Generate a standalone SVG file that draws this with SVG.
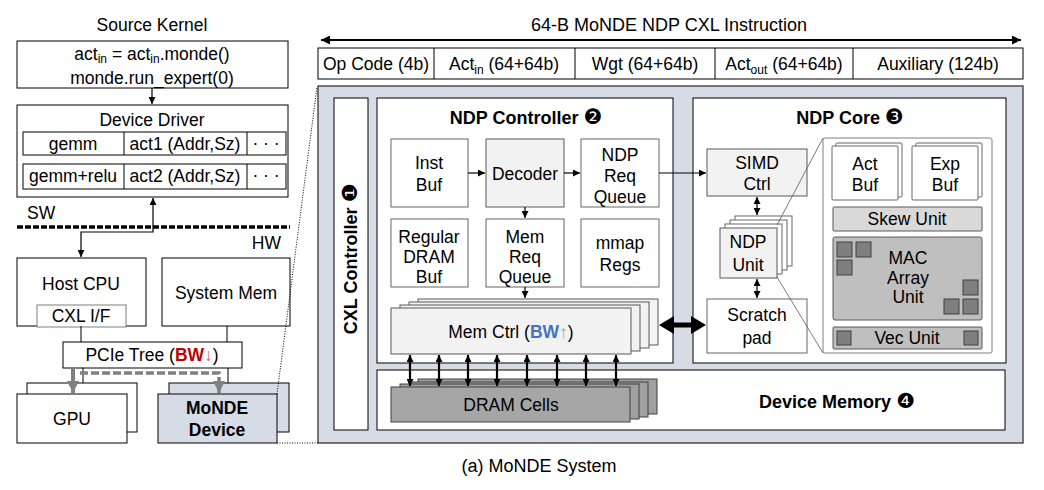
<svg xmlns="http://www.w3.org/2000/svg" width="1044" height="490" viewBox="0 0 1044 490">
<defs>
<style>
text{font-family:"Liberation Sans",Arial,sans-serif;font-size:17.5px;fill:#000;text-anchor:middle}
.bd{font-weight:bold}
.ttl{font-weight:bold;font-size:18px}
.sub{font-size:12px}
.num{font-family:"DejaVu Sans",sans-serif;font-weight:normal;font-size:21px}
.bx{fill:#fff;stroke:#000;stroke-width:1}
.ib{fill:#fff;stroke:#666;stroke-width:1}
.lg{fill:#f2f2f2;stroke:#595959;stroke-width:1}
.mg{fill:#bfbfbf;stroke:#595959;stroke-width:1}
.sq{fill:#7f7f7f;stroke:#404040;stroke-width:1}
.ln{fill:none;stroke:#000;stroke-width:1}
.ar{fill:none;stroke:#000;stroke-width:1.2}
.ar2{fill:none;stroke:#000;stroke-width:2.2}
</style>
<marker id="ah" viewBox="0 0 10 10" refX="10" refY="5" markerWidth="7" markerHeight="7" markerUnits="userSpaceOnUse" orient="auto-start-reverse"><path d="M0,0 L10,5 L0,10 z" fill="#000"/></marker>
<marker id="ahL" viewBox="0 0 10 10" refX="10" refY="5" markerWidth="9" markerHeight="9" markerUnits="userSpaceOnUse" orient="auto-start-reverse"><path d="M0,0 L10,5 L0,10 z" fill="#000"/></marker>
<marker id="ahG" viewBox="0 0 10 10" refX="10" refY="5" markerWidth="12" markerHeight="12" markerUnits="userSpaceOnUse" orient="auto-start-reverse"><path d="M0,0 L10,5 L0,10 z" fill="#808080"/></marker>
</defs>

<!-- Left: software/hardware stack -->
<g id="source-kernel">
<text x="152" y="31">Source Kernel</text>
<rect class="bx" x="17" y="41" width="271" height="47"/>
<text x="152" y="60">act<tspan class="sub" dy="3">in</tspan><tspan dy="-3"> = act</tspan><tspan class="sub" dy="3">in</tspan><tspan dy="-3">.monde()</tspan></text>
<text x="152" y="84">monde.run_expert(0)</text>
</g>

<g id="device-driver">
<rect class="bx" x="17" y="105" width="271" height="92"/>
<text x="152" y="126">Device Driver</text>
<rect class="bx" x="23" y="132" width="263" height="23"/>
<line class="ln" x1="124" y1="132" x2="124" y2="155"/>
<line class="ln" x1="247" y1="132" x2="247" y2="155"/>
<text x="73" y="150">gemm</text>
<text x="185" y="150">act1 (Addr,Sz)</text>
<text x="266" y="149">· · ·</text>
<rect class="bx" x="23" y="164" width="263" height="25"/>
<line class="ln" x1="124" y1="164" x2="124" y2="189"/>
<line class="ln" x1="247" y1="164" x2="247" y2="189"/>
<text x="73" y="182">gemm+relu</text>
<text x="185" y="182">act2 (Addr,Sz)</text>
<text x="266" y="181">· · ·</text>
</g>

<g id="sw-hw">
<text x="27" y="219" style="text-anchor:start">SW</text>
<line x1="17" y1="227" x2="290" y2="227" stroke="#000" stroke-width="3.5" stroke-dasharray="6 2"/>
<text x="281" y="249" style="text-anchor:end">HW</text>
</g>

<g id="host-cpu">
<rect class="bx" x="17" y="258" width="129" height="68"/>
<text x="81" y="290">Host CPU</text>
<rect x="37" y="305" width="89" height="22" fill="#fff" stroke="#7f7f7f"/>
<text x="81" y="322">CXL I/F</text>
</g>

<g id="system-mem">
<rect class="bx" x="162" y="258" width="128" height="68"/>
<text x="226" y="299">System Mem</text>
</g>

<g id="pcie-tree">
<rect class="bx" x="63" y="342" width="179" height="26"/>
<text x="152" y="361">PCIe Tree (<tspan class="bd" fill="#c00000">BW</tspan><tspan fill="#e06060">↓</tspan>)</text>
</g>

<g id="gpu">
<rect class="bx" x="27" y="383" width="110" height="49"/>
<rect class="bx" x="17" y="394" width="110" height="49"/>
<text x="72" y="425">GPU</text>
</g>

<g id="monde-device">
<rect x="169" y="383" width="120" height="49" fill="#d6dce5" stroke="#000"/>
<rect x="158" y="394" width="119" height="49" fill="#d6dce5" stroke="#000"/>
<text class="bd" x="217" y="414">MoNDE</text>
<text class="bd" x="217" y="436">Device</text>
</g>

<!-- Right: instruction format -->
<g id="instruction">
<text x="669" y="31" style="font-size:18px">64-B MoNDE NDP CXL Instruction</text>
<rect class="bx" x="318" y="48" width="705" height="31"/>
<line class="ln" x1="434" y1="48" x2="434" y2="79"/>
<line class="ln" x1="575" y1="48" x2="575" y2="79"/>
<line class="ln" x1="715" y1="48" x2="715" y2="79"/>
<line class="ln" x1="853" y1="48" x2="853" y2="79"/>
<text x="376" y="70">Op Code (4b)</text>
<text x="504" y="70">Act<tspan class="sub" dy="4">in</tspan><tspan dy="-4"> (64+64b)</tspan></text>
<text x="645" y="70">Wgt (64+64b)</text>
<text x="784" y="70">Act<tspan class="sub" dy="4">out</tspan><tspan dy="-4"> (64+64b)</tspan></text>
<text x="938" y="70">Auxiliary (124b)</text>
</g>

<g id="monde-panel">
<rect x="318" y="86" width="705" height="357" fill="#d6dce5" stroke="#262626" stroke-width="1.2"/>
</g>

<g id="cxl-controller">
<rect class="bx" x="334" y="98" width="34" height="332"/>
<text class="ttl" transform="translate(357,259) rotate(-90)">CXL Controller <tspan class="num">❶</tspan></text>
</g>

<g id="ndp-controller">
<rect class="bx" x="377" y="98" width="296" height="265"/>
<text class="ttl" x="526" y="124">NDP Controller <tspan class="num">❷</tspan></text>
</g>

<g id="inst-buf">
<rect class="ib" x="391" y="139" width="77" height="68"/>
<text x="429" y="169">Inst</text>
<text x="429" y="191">Buf</text>
</g>
<g id="decoder">
<rect class="lg" x="486" y="139" width="78" height="68"/>
<text x="525" y="180">Decoder</text>
</g>
<g id="ndp-req-queue">
<rect class="ib" x="581" y="139" width="78" height="68"/>
<text x="620" y="161">NDP</text>
<text x="620" y="182">Req</text>
<text x="620" y="203">Queue</text>
</g>
<g id="regular-dram-buf">
<rect class="ib" x="391" y="219" width="77" height="68"/>
<text x="429" y="243">Regular</text>
<text x="429" y="263">DRAM</text>
<text x="429" y="283">Buf</text>
</g>
<g id="mem-req-queue">
<rect class="ib" x="486" y="219" width="78" height="68"/>
<text x="525" y="243">Mem</text>
<text x="525" y="263">Req</text>
<text x="525" y="283">Queue</text>
</g>
<g id="mmap-regs">
<rect class="ib" x="581" y="219" width="78" height="68"/>
<text x="620" y="249">mmap</text>
<text x="620" y="271">Regs</text>
</g>

<g id="mem-ctrl">
<rect class="lg" x="418" y="299" width="240" height="46"/>
<rect class="lg" x="409" y="302" width="240" height="46"/>
<rect class="lg" x="400" y="305" width="240" height="46"/>
<rect class="lg" x="391" y="308" width="240" height="46"/>
<text x="511" y="338">Mem Ctrl (<tspan class="bd" fill="#4472c4">BW</tspan><tspan fill="#8faadc">↑</tspan>)</text>
</g>

<g id="device-memory">
<rect class="bx" x="377" y="370" width="628" height="60"/>
<text class="ttl" x="837" y="408">Device Memory <tspan class="num">❹</tspan></text>
</g>

<g id="dram-cells">
<rect x="418" y="379" width="239" height="35" fill="#a0a0a0" stroke="#404040"/>
<rect x="409" y="382" width="239" height="35" fill="#a0a0a0" stroke="#404040"/>
<rect x="400" y="384" width="239" height="35" fill="#a0a0a0" stroke="#404040"/>
<rect x="391" y="387" width="239" height="35" fill="#a6a6a6" stroke="#404040"/>
<text x="511" y="411">DRAM Cells</text>
</g>

<g id="ndp-core">
<rect class="bx" x="693" y="98" width="313" height="265"/>
<text class="ttl" x="850" y="124">NDP Core <tspan class="num">❸</tspan></text>
</g>

<g id="simd-ctrl">
<rect class="lg" x="707" y="149" width="100" height="47"/>
<text x="757" y="169">SIMD</text>
<text x="757" y="190">Ctrl</text>
</g>

<g id="ndp-unit">
<rect class="ib" x="735" y="216" width="57" height="50"/>
<rect class="ib" x="730" y="220" width="57" height="50"/>
<rect class="ib" x="725" y="224" width="57" height="50"/>
<rect class="lg" x="720" y="228" width="57" height="50"/>
<text x="748" y="248">NDP</text>
<text x="748" y="271">Unit</text>
</g>

<g id="scratch-pad">
<rect class="ib" x="707" y="299" width="100" height="54"/>
<text x="757" y="321">Scratch</text>
<text x="757" y="344">pad</text>
</g>

<g id="ndp-unit-detail">
<line x1="777" y1="225" x2="823" y2="138" stroke="#595959" stroke-width="0.8"/>
<line x1="777" y1="277" x2="823" y2="353" stroke="#595959" stroke-width="0.8"/>
<rect x="823" y="138" width="169" height="215" rx="2" fill="#fff" stroke="#7f7f7f"/>
</g>

<g id="act-buf">
<rect class="ib" x="836" y="143" width="66" height="54" rx="1"/>
<rect class="ib" x="832" y="146" width="66" height="54" rx="1"/>
<text x="865" y="170">Act</text>
<text x="865" y="191">Buf</text>
</g>
<g id="exp-buf">
<rect class="ib" x="916" y="143" width="66" height="54" rx="1"/>
<rect class="ib" x="912" y="146" width="66" height="54" rx="1"/>
<text x="945" y="170">Exp</text>
<text x="945" y="191">Buf</text>
</g>
<g id="skew-unit">
<rect x="833" y="207" width="149" height="24" rx="1" fill="#d9d9d9" stroke="#595959"/>
<text x="907" y="225">Skew Unit</text>
</g>
<g id="mac-array-unit">
<rect class="mg" x="833" y="237" width="149" height="83" rx="2"/>
<rect class="sq" x="837" y="242" width="15" height="15"/>
<rect class="sq" x="856" y="242" width="15" height="15"/>
<rect class="sq" x="837" y="260" width="15" height="15"/>
<rect class="sq" x="963" y="280" width="15" height="15"/>
<rect class="sq" x="963" y="299" width="15" height="15"/>
<rect class="sq" x="944" y="299" width="15" height="15"/>
<text x="908" y="264">MAC</text>
<text x="908" y="284">Array</text>
<text x="908" y="303">Unit</text>
</g>
<g id="vec-unit">
<rect class="mg" x="833" y="327" width="149" height="22" rx="1"/>
<rect class="sq" x="837" y="331" width="14" height="14"/>
<rect class="sq" x="964" y="331" width="14" height="14"/>
<text x="907" y="344">Vec Unit</text>
</g>

<!-- Connectors -->
<g id="connectors">
<line class="ar" x1="152" y1="88" x2="152" y2="104" marker-end="url(#ah)"/>
<path class="ar" d="M153,198 V232 H81 V257" marker-start="url(#ah)" marker-end="url(#ah)"/>
<line class="ln" x1="81" y1="326" x2="81" y2="342"/>
<line class="ln" x1="227" y1="326" x2="227" y2="342"/>
<line class="ln" x1="83" y1="368" x2="83" y2="383"/>
<line class="ln" x1="228" y1="368" x2="228" y2="383"/>
<line x1="73" y1="368" x2="73" y2="393" stroke="#808080" stroke-width="4" marker-end="url(#ahG)"/>
<path d="M80,373 H219 V393" fill="none" stroke="#808080" stroke-width="3.5" stroke-dasharray="8 3" marker-end="url(#ahG)"/>
<line x1="277" y1="394" x2="317" y2="87" stroke="#000" stroke-width="1" stroke-dasharray="1 1.5"/>
<line x1="277" y1="443" x2="318" y2="443" stroke="#000" stroke-width="1" stroke-dasharray="1 1.5"/>
<line x1="321" y1="40" x2="1021" y2="40" stroke="#000" stroke-width="2" marker-start="url(#ahL)" marker-end="url(#ahL)"/>
<line class="ar" x1="468" y1="173" x2="485" y2="173" marker-end="url(#ah)"/>
<line class="ar" x1="564" y1="173" x2="580" y2="173" marker-end="url(#ah)"/>
<line class="ar" x1="525" y1="207" x2="525" y2="218" marker-end="url(#ah)"/>
<line class="ar" x1="525" y1="287" x2="525" y2="298" marker-end="url(#ah)"/>
<line class="ar" x1="659" y1="173" x2="706" y2="173" marker-end="url(#ah)"/>
<line class="ar" x1="757" y1="197" x2="757" y2="215" marker-start="url(#ah)" marker-end="url(#ah)"/>
<line class="ar" x1="757" y1="279" x2="757" y2="298" marker-start="url(#ah)" marker-end="url(#ah)"/>
<polygon points="659,325 674,316 674,322.5 691,322.5 691,316 706,325 691,334 691,327.5 674,327.5 674,334" fill="#000"/>
<line class="ar2" x1="410" y1="355" x2="410" y2="386" marker-start="url(#ah)" marker-end="url(#ah)"/>
<line class="ar2" x1="439" y1="355" x2="439" y2="386" marker-start="url(#ah)" marker-end="url(#ah)"/>
<line class="ar2" x1="468" y1="355" x2="468" y2="386" marker-start="url(#ah)" marker-end="url(#ah)"/>
<line class="ar2" x1="497" y1="355" x2="497" y2="386" marker-start="url(#ah)" marker-end="url(#ah)"/>
<line class="ar2" x1="527" y1="355" x2="527" y2="386" marker-start="url(#ah)" marker-end="url(#ah)"/>
<line class="ar2" x1="557" y1="355" x2="557" y2="386" marker-start="url(#ah)" marker-end="url(#ah)"/>
<line class="ar2" x1="586" y1="355" x2="586" y2="386" marker-start="url(#ah)" marker-end="url(#ah)"/>
<line class="ar2" x1="616" y1="355" x2="616" y2="386" marker-start="url(#ah)" marker-end="url(#ah)"/>
</g>

<text x="539" y="472" style="font-size:18px">(a) MoNDE System</text>
</svg>
